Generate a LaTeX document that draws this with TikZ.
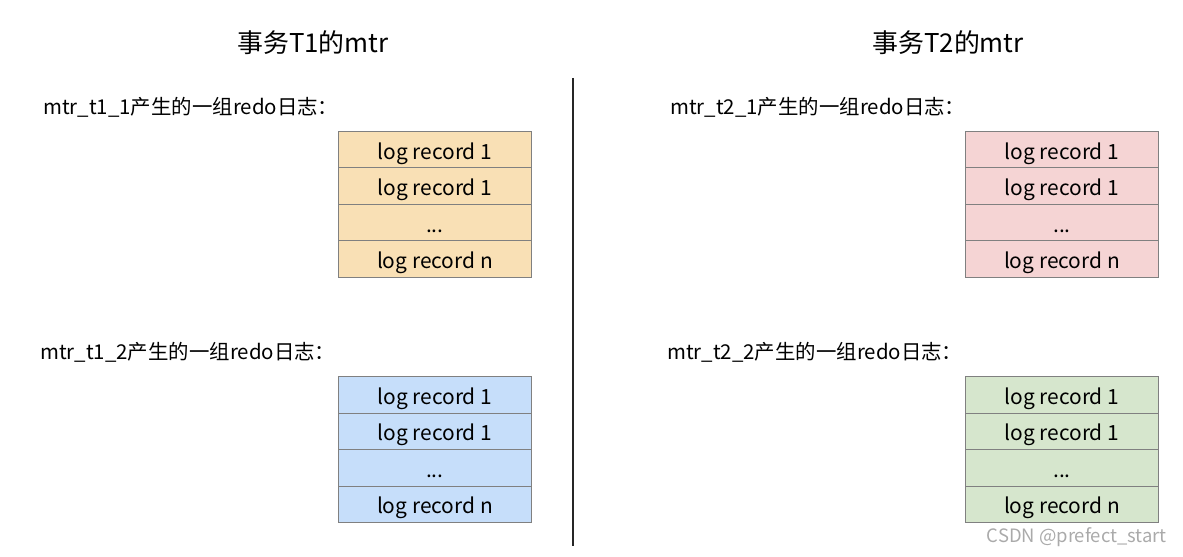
\documentclass[tikz,border=0pt]{standalone}
\usepackage{fontspec}
\setmainfont{Noto Sans CJK SC}
\definecolor{peach}{RGB}{249,224,181}
\definecolor{lblue}{RGB}{198,222,250}
\definecolor{lpink}{RGB}{245,212,212}
\definecolor{lgreen}{RGB}{214,230,205}
\definecolor{bord}{RGB}{128,128,128}
\definecolor{wm}{RGB}{170,170,170}
\begin{document}
\begin{tikzpicture}[x=1bp,y=-1bp,
  rec/.style={draw=bord,line width=0.8bp,minimum width=193bp,minimum height=36.5bp,anchor=north west,inner sep=0pt,text height=20.5bp,text depth=1.5bp,font=\fontsize{21}{24}\selectfont},
  ttl/.style={font=\fontsize{26}{30}\selectfont},
  lbl/.style={anchor=west,inner sep=0pt,font=\fontsize{20.5}{24}\selectfont}]
\useasboundingbox (0,0) rectangle (1183,557);
\node[ttl] (t1) at (313,43) {事务T1的mtr};
\node[ttl] (t2) at (948,43) {事务T2的mtr};
\coordinate (vtop) at (573,78);
\coordinate (vbot) at (573,546);
\draw[line width=1.8bp,black!85] (vtop) -- (vbot);
\node[lbl] (l11) at (43,107.5) {mtr\_t1\_1产生的一组redo日志：};
\node[lbl] (l12) at (40,352.5) {mtr\_t1\_2产生的一组redo日志：};
\node[lbl] (l21) at (670,107.5) {mtr\_t2\_1产生的一组redo日志：};
\node[lbl] (l22) at (667,352.5) {mtr\_t2\_2产生的一组redo日志：};
% T1 upper
\node[rec,fill=peach] (a1) at (338,131) {log record 1};
\node[rec,fill=peach] (a2) at (338,167.5) {log record 1};
\node[rec,fill=peach] (a3) at (338,204) {...};
\node[rec,fill=peach] (a4) at (338,240.5) {log record n};
% T1 lower
\node[rec,fill=lblue] (b1) at (338,376) {log record 1};
\node[rec,fill=lblue] (b2) at (338,412.5) {log record 1};
\node[rec,fill=lblue] (b3) at (338,449) {...};
\node[rec,fill=lblue] (b4) at (338,485.5) {log record n};
% T2 upper
\node[rec,fill=lpink] (c1) at (965,131) {log record 1};
\node[rec,fill=lpink] (c2) at (965,167.5) {log record 1};
\node[rec,fill=lpink] (c3) at (965,204) {...};
\node[rec,fill=lpink] (c4) at (965,240.5) {log record n};
% T2 lower
\node[rec,fill=lgreen] (d1) at (965,376) {log record 1};
\node[rec,fill=lgreen] (d2) at (965,412.5) {log record 1};
\node[rec,fill=lgreen] (d3) at (965,449) {...};
\node[rec,fill=lgreen] (d4) at (965,485.5) {log record n};
\node[anchor=east,inner sep=0pt,text=wm,font=\fontsize{18.5}{20}\selectfont] (wmk) at (1167,537) {CSDN @prefect\_start};
\end{tikzpicture}
\end{document}
